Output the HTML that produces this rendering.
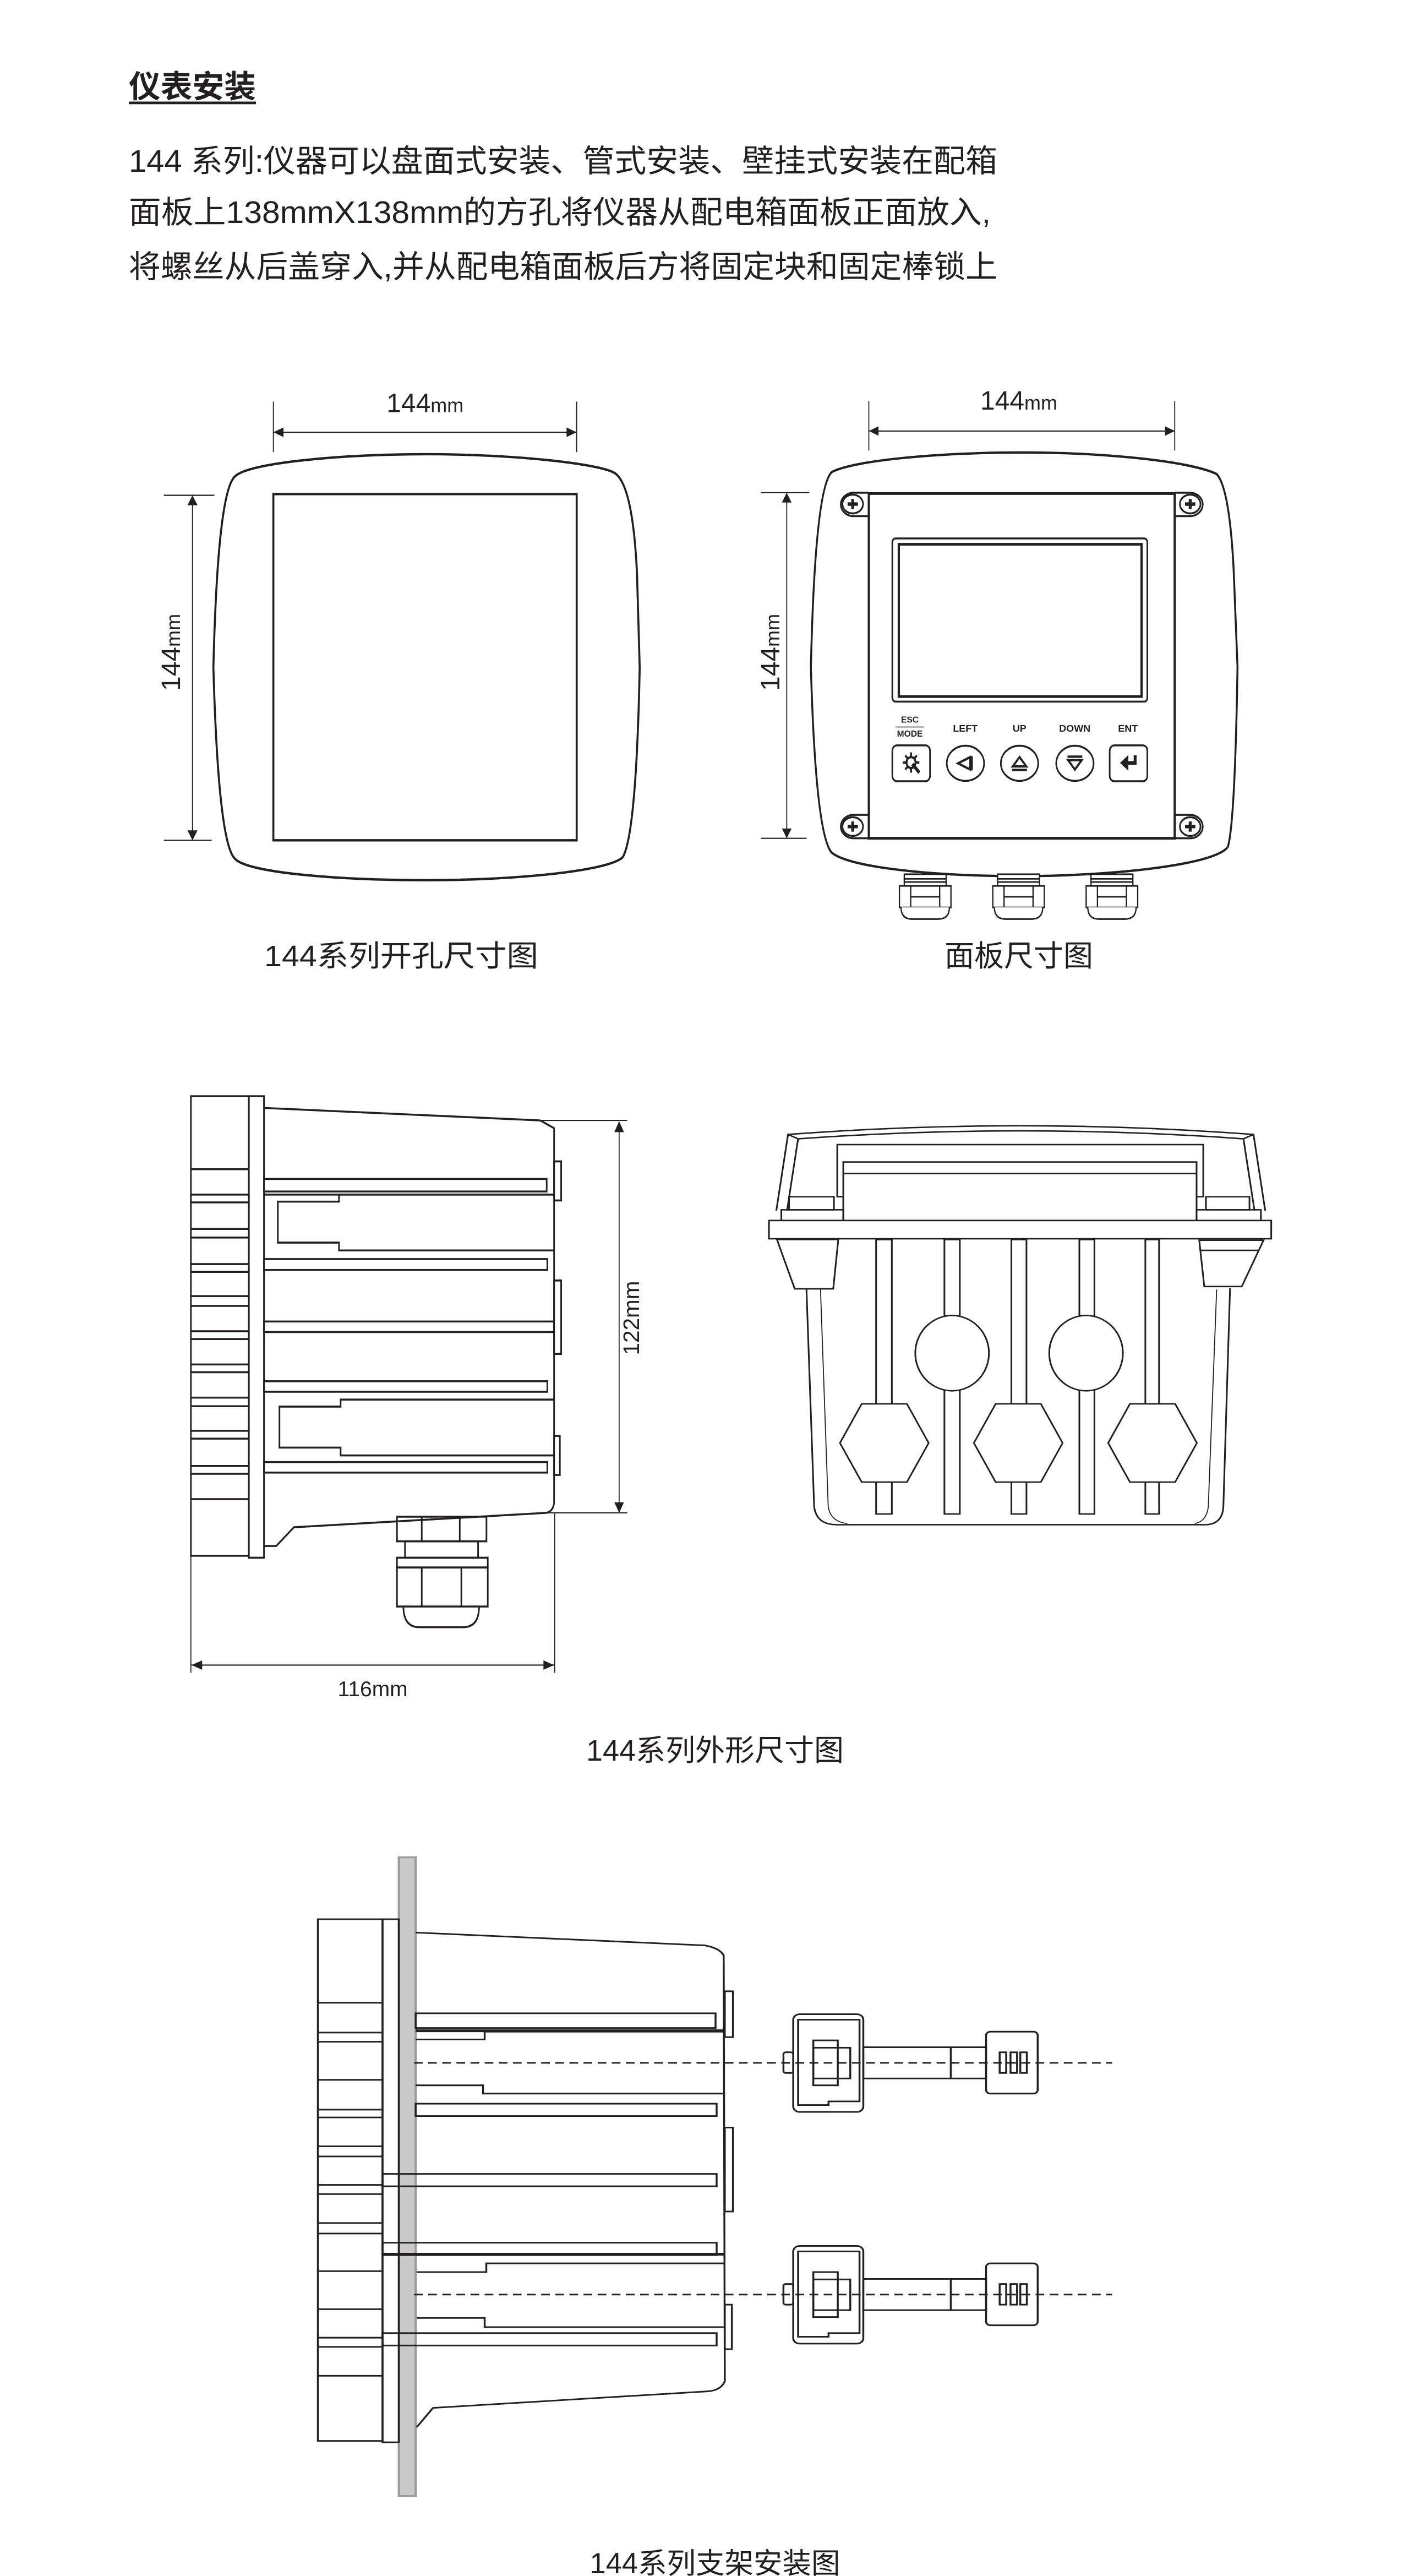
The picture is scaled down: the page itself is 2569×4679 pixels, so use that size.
<!DOCTYPE html>
<html><head><meta charset="utf-8"><style>
html,body{margin:0;padding:0;background:#fff;}
svg{display:block;}
text{font-family:"Liberation Sans","Noto Sans CJK SC",sans-serif;fill:#231f20;}
</style></head><body>
<svg width="2569" height="4679" viewBox="0 0 856.33 1559.67" xmlns="http://www.w3.org/2000/svg">
<rect width="856.33" height="1559.67" fill="#fff"/>
<!-- Header text -->
<text x="78" y="59" font-size="19" font-weight="bold" textLength="77" lengthAdjust="spacingAndGlyphs">仪表安装</text>
<rect x="78" y="61.5" width="77" height="1.6" fill="#231f20"/>
<text x="78" y="104" font-size="19" textLength="526" lengthAdjust="spacingAndGlyphs">144 系列:仪器可以盘面式安装、管式安装、壁挂式安装在配箱</text>
<text x="78" y="135" font-size="19" textLength="522" lengthAdjust="spacingAndGlyphs">面板上138mmX138mm的方孔将仪器从配电箱面板正面放入,</text>
<text x="78" y="168" font-size="19" textLength="526" lengthAdjust="spacingAndGlyphs">将螺丝从后盖穿入,并从配电箱面板后方将固定块和固定棒锁上</text>

<!-- Panel 1 -->
<g transform="translate(83.3,226.7) scale(0.2041,0.2415)" fill="none" stroke="#231f20">
<path stroke-width="6" d="M290,255 C330,222 600,200 860,200 C1120,200 1390,225 1420,250 Q1470,285 1482,500 L1490,735 Q1480,1150 1440,1210 C1400,1245 1120,1268 860,1268 C600,1268 330,1250 290,1215 Q240,1180 225,735 Q238,290 290,255 Z"/>
<rect x="403" y="300" width="900" height="868" stroke-width="6"/>
<g stroke-width="3">
<line x1="403" y1="68" x2="403" y2="195"/><line x1="1303" y1="68" x2="1303" y2="195"/>
<line x1="403" y1="145" x2="1303" y2="145"/>
<line x1="78" y1="303" x2="228" y2="303"/><line x1="78" y1="1168" x2="220" y2="1168"/>
<line x1="163" y1="303" x2="163" y2="1168"/>
</g>
<g fill="#231f20" stroke="none">
<polygon points="403,145 433,133 433,157"/><polygon points="1303,145 1273,133 1273,157"/>
<polygon points="163,303 148,328 178,328"/><polygon points="163,1168 148,1143 178,1143"/>
</g>
</g>
<text x="257.4" y="249.5" font-size="16" text-anchor="middle">144<tspan font-size="12">mm</tspan></text>
<text transform="translate(109,395) rotate(-90)" font-size="16" text-anchor="middle">144<tspan font-size="12">mm</tspan></text>
<text x="243" y="585" font-size="18" text-anchor="middle" textLength="166" lengthAdjust="spacingAndGlyphs">144系列开孔尺寸图</text>

<!-- Panel 2 -->
<g transform="translate(466.7,226.7) scale(0.195,0.2364)" fill="none" stroke="#231f20">
<path stroke-width="6" d="M190,250 C260,220 520,200 780,200 C1040,200 1300,222 1385,255 Q1425,290 1438,500 L1450,750 Q1442,1150 1420,1210 C1380,1258 1040,1285 780,1285 C520,1285 250,1265 190,1225 Q140,1180 125,750 Q138,290 190,250 Z"/>
<!-- glands -->
<g stroke-width="4" fill="#fff">
<g transform="translate(480,0)">
<rect x="-65" y="1280" width="130" height="30"/><line x1="-65" y1="1292" x2="65" y2="1292"/><line x1="-65" y1="1300" x2="65" y2="1300"/>
<path d="M-80,1310 L80,1310 L80,1365 L-80,1365 Z"/><line x1="-45" y1="1310" x2="-45" y2="1365"/><line x1="45" y1="1310" x2="45" y2="1365"/><line x1="-45" y1="1338" x2="45" y2="1338"/>
<path d="M-75,1365 Q-75,1395 -40,1395 L40,1395 Q75,1395 75,1365"/>
</g>
<g transform="translate(770,0)">
<rect x="-65" y="1280" width="130" height="30"/><line x1="-65" y1="1292" x2="65" y2="1292"/><line x1="-65" y1="1300" x2="65" y2="1300"/>
<path d="M-80,1310 L80,1310 L80,1365 L-80,1365 Z"/><line x1="-45" y1="1310" x2="-45" y2="1365"/><line x1="45" y1="1310" x2="45" y2="1365"/><line x1="-45" y1="1338" x2="45" y2="1338"/>
<path d="M-75,1365 Q-75,1395 -40,1395 L40,1395 Q75,1395 75,1365"/>
</g>
<g transform="translate(1060,0)">
<rect x="-65" y="1280" width="130" height="30"/><line x1="-65" y1="1292" x2="65" y2="1292"/><line x1="-65" y1="1300" x2="65" y2="1300"/>
<path d="M-80,1310 L80,1310 L80,1365 L-80,1365 Z"/><line x1="-45" y1="1310" x2="-45" y2="1365"/><line x1="45" y1="1310" x2="45" y2="1365"/><line x1="-45" y1="1338" x2="45" y2="1338"/>
<path d="M-75,1365 Q-75,1395 -40,1395 L40,1395 Q75,1395 75,1365"/>
</g>
</g>
<rect x="305" y="305" width="950" height="883" stroke-width="7"/>
<!-- screws -->
<g stroke-width="5">
<path d="M305,303 L258,303 A40,30 0 0 0 258,363 L305,363"/>
<path d="M1255,303 L1302,303 A40,30 0 0 1 1302,363 L1255,363"/>
<path d="M305,1128 L258,1128 A40,30 0 0 0 258,1188 L305,1188"/>
<path d="M1255,1128 L1302,1128 A40,30 0 0 1 1302,1188 L1255,1188"/>
<ellipse cx="255" cy="332" rx="32" ry="24"/><ellipse cx="1303" cy="332" rx="32" ry="24"/>
<ellipse cx="255" cy="1158" rx="32" ry="24"/><ellipse cx="1303" cy="1158" rx="32" ry="24"/>
</g>
<g stroke-width="9">
<path d="M239,332 h32 M255,319 v26"/><path d="M1287,332 h32 M1303,319 v26"/>
<path d="M239,1158 h32 M255,1145 v26"/><path d="M1287,1158 h32 M1303,1145 v26"/>
</g>
<!-- screen -->
<rect x="378" y="420" width="792" height="418" rx="10" stroke-width="5"/>
<rect x="398" y="435" width="754" height="390" stroke-width="7"/>
<line x1="388" y1="903" x2="476" y2="903" stroke-width="2"/>
<!-- buttons -->
<g stroke-width="5">
<rect x="378" y="950" width="117" height="92" rx="14"/>
<ellipse cx="605" cy="996" rx="58" ry="45"/>
<ellipse cx="773" cy="996" rx="58" ry="45"/>
<ellipse cx="945" cy="996" rx="58" ry="45"/>
<rect x="1053" y="950" width="117" height="92" rx="14"/>
</g>
<g stroke-width="6">
<circle cx="436" cy="994" r="14"/>
<path d="M436,968 v10 M436,1010 v10 M410,994 h10 M452,994 h10 M418,976 l7,7 M447,1005 l7,7 M454,976 l-7,7 M418,1012 l7,-7"/>
<line x1="440" y1="998" x2="462" y2="1020" stroke-width="9"/>
<path d="M620,980 L582,996 L620,1012 Z"/><line x1="625" y1="978" x2="625" y2="1014"/>
<path d="M773,980 L752,1004 L794,1004 Z"/><line x1="750" y1="1013" x2="796" y2="1013"/>
<path d="M945,1012 L924,988 L966,988 Z"/><line x1="922" y1="979" x2="968" y2="979"/>
<path d="M1132,975 L1132,995 L1095,995" stroke-width="9"/><path d="M1090,995 L1108,981 L1108,1009 Z" fill="#231f20"/>
</g>
<!-- dims -->
<g stroke-width="3">
<line x1="305" y1="68" x2="305" y2="195"/><line x1="1255" y1="68" x2="1255" y2="195"/>
<line x1="305" y1="145" x2="1255" y2="145"/>
<line x1="-30" y1="303" x2="120" y2="303"/><line x1="-30" y1="1188" x2="112" y2="1188"/>
<line x1="50" y1="303" x2="50" y2="1188"/>
</g>
<g fill="#231f20" stroke="none">
<polygon points="305,145 335,133 335,157"/><polygon points="1255,145 1225,133 1225,157"/>
<polygon points="50,303 35,328 65,328"/><polygon points="50,1188 35,1163 65,1163"/>
</g>
</g>
<text x="617" y="248" font-size="16" text-anchor="middle">144<tspan font-size="12">mm</tspan></text>
<text transform="translate(472,395) rotate(-90)" font-size="16" text-anchor="middle">144<tspan font-size="12">mm</tspan></text>
<g font-size="6" font-weight="bold" text-anchor="middle">
<text x="551" y="437.5" font-size="5.2">ESC</text>
<text x="551" y="446" font-size="5.2">MODE</text>
<text x="584.6" y="443">LEFT</text>
<text x="617.4" y="443">UP</text>
<text x="650.9" y="443">DOWN</text>
<text x="683.1" y="443">ENT</text>
</g>
<text x="617" y="585" font-size="18" text-anchor="middle">面板尺寸图</text>

<!-- Panel 3 side view -->
<g transform="translate(100,650) scale(0.195,0.2364)" fill="none" stroke="#231f20">
<g stroke-width="5">
<rect x="80" y="58" width="180" height="1177"/>
<rect x="260" y="58" width="47" height="1182"/>
<path d="M307,88 L1165,120 L1208,140 L1208,1100 Q1205,1120 1185,1125 L400,1162 L345,1210 L307,1210"/>
<path d="M80,245 h180 M80,310 h180 M80,330 h180 M80,398 h180 M80,420 h180 M80,488 h180 M80,508 h180 M80,570 h180 M80,595 h180 M80,660 h180 M80,680 h180 M80,745 h180 M80,765 h180 M80,830 h180 M80,852 h180 M80,915 h180 M80,935 h180 M80,1005 h180 M80,1025 h180 M80,1090 h180"/>
<rect x="307" y="270" width="878" height="32"/>
<line x1="307" y1="310" x2="1208" y2="310"/>
<polyline points="1208,310 540,310 540,328 350,328 350,433 540,433 540,453 1208,453"/>
<rect x="307" y="475" width="880" height="28"/>
<rect x="307" y="635" width="901" height="27"/>
<rect x="307" y="788" width="880" height="27"/>
<polyline points="1208,835 545,835 545,853 355,853 355,958 545,958 545,978 1208,978"/>
<rect x="307" y="995" width="880" height="27"/>
<rect x="1208" y="225" width="22" height="100"/>
<rect x="1208" y="530" width="22" height="188"/>
<rect x="1208" y="928" width="18" height="100"/>
<!-- gland -->
<rect x="720" y="1135" width="278" height="63"/><line x1="797" y1="1135" x2="797" y2="1198"/><line x1="915" y1="1135" x2="915" y2="1198"/>
<rect x="745" y="1198" width="227" height="42"/>
<rect x="720" y="1240" width="282" height="25"/>
<rect x="720" y="1265" width="282" height="100"/><line x1="797" y1="1265" x2="797" y2="1365"/><line x1="920" y1="1265" x2="920" y2="1365"/>
<path d="M740,1365 Q740,1418 790,1418 L925,1418 Q975,1418 975,1365"/>
</g>
<g stroke-width="3">
<line x1="1165" y1="120" x2="1435" y2="120"/><line x1="1185" y1="1125" x2="1435" y2="1125"/>
<line x1="1410" y1="125" x2="1410" y2="1125"/>
<line x1="80" y1="1235" x2="80" y2="1535"/><line x1="1210" y1="1125" x2="1210" y2="1535"/>
<line x1="80" y1="1515" x2="1210" y2="1515"/>
</g>
<g fill="#231f20" stroke="none">
<polygon points="1410,122 1395,150 1425,150"/><polygon points="1410,1125 1395,1098 1425,1098"/>
<polygon points="82,1515 115,1503 115,1527"/><polygon points="1208,1515 1175,1503 1175,1527"/>
</g>
</g>
<text transform="translate(387,798) rotate(-90)" font-size="13.5" text-anchor="middle">122mm</text>
<text x="225.7" y="1027" font-size="13" text-anchor="middle">116mm</text>
<text x="433" y="1066" font-size="18" text-anchor="middle">144系列外形尺寸图</text>

<!-- Panel 4 -->
<g transform="translate(460,666.7) scale(0.2028,0.1754)" fill="none" stroke="#231f20">
<g stroke-width="5">
<path d="M50,378 L85,115 Q780,55 1475,115 L1510,378"/>
<path d="M85,115 L115,130 Q780,75 1445,130 L1475,115"/>
<path d="M115,130 L82,378 M1445,130 L1478,378"/>
<rect x="232" y="150" width="1093" height="180"/>
<rect x="250" y="210" width="1055" height="202" fill="#fff"/>
<line x1="250" y1="250" x2="1305" y2="250"/>
<rect x="88" y="330" width="134" height="45"/><rect x="1333" y="330" width="130" height="45"/>
<rect x="65" y="375" width="185" height="37"/><rect x="1305" y="375" width="192" height="37"/>
<rect x="28" y="412" width="1500" height="63" fill="#fff"/>
<path d="M52,478 L235,478 L220,648 L105,648 Z"/>
<path d="M1313,480 L1505,480 L1440,640 L1328,640 Z"/><line x1="1318" y1="515" x2="1490" y2="515"/>
<path d="M140,648 L163,1400 Q170,1462 230,1462 L1330,1462 Q1382,1462 1385,1400 L1405,645"/>
<path d="M182,650 L205,1400 Q212,1452 262,1458 M1365,650 L1340,1400 Q1335,1450 1300,1458" stroke-width="3"/>
</g>
<g stroke-width="5" fill="#fff">
<rect x="348" y="478" width="47" height="947"/>
<rect x="552" y="478" width="46" height="947"/>
<rect x="752" y="478" width="45" height="947"/>
<rect x="955" y="478" width="45" height="947"/>
<rect x="1152" y="478" width="41" height="947"/>
<ellipse cx="575" cy="870" rx="110" ry="130"/>
<ellipse cx="975" cy="870" rx="110" ry="130"/>
<polygon points="305,1045 440,1045 505,1180 440,1315 305,1315 240,1180"/>
<polygon points="705,1045 840,1045 905,1180 840,1315 705,1315 640,1180"/>
<polygon points="1106,1045 1241,1045 1306,1180 1241,1315 1106,1315 1041,1180"/>
</g>
</g>

<!-- Panel 5 -->
<g transform="translate(183.3,1122.3) scale(0.329,0.2778)" fill="none" stroke="#231f20">
<rect x="177" y="8" width="31" height="1392" fill="#c9c9c9" stroke="#999" stroke-width="4"/>
<g stroke-width="3.5">
<rect x="28" y="143" width="119" height="1137"/>
<rect x="147" y="143" width="30" height="1140"/>
<path d="M28,325 h119 M28,390 h119 M28,410 h119 M28,493 h119 M28,558 h119 M28,575 h119 M28,638 h119 M28,660 h119 M28,722 h119 M28,742 h119 M28,805 h119 M28,828 h119 M28,910 h119 M28,993 h119 M28,1055 h119 M28,1075 h119 M28,1138 h119"/>
<path d="M208,172 L740,200 Q768,206 775,222 L777,1150 Q770,1170 745,1172 L240,1208 L210,1250"/>
<rect x="208" y="348" width="552" height="32"/>
<line x1="208" y1="386" x2="775" y2="386" stroke-width="6"/>
<polyline points="775,388 335,388 335,405 208,405"/>
<polyline points="208,505 332,505 332,523 775,523"/>
<rect x="208" y="545" width="554" height="27"/>
<rect x="147" y="698" width="615" height="27"/>
<rect x="147" y="848" width="615" height="27"/>
<line x1="147" y1="873" x2="775" y2="873" stroke-width="6"/>
<polyline points="775,893 338,893 338,912 210,912"/>
<polyline points="210,1012 335,1012 335,1032 775,1032"/>
<rect x="147" y="1045" width="615" height="27"/>
<rect x="777" y="300" width="15" height="100"/>
<rect x="777" y="597" width="15" height="183"/>
<rect x="777" y="983" width="13" height="97"/>
</g>
<g stroke-width="3.5">
<rect x="903" y="350" width="129" height="213" rx="12"/>
<path d="M912,362 L1025,362 L1025,540 L968,540 L968,548 L912,548 Z"/>
<rect x="940" y="407" width="45" height="98"/>
<rect x="940" y="423" width="68" height="67"/>
<rect x="885" y="433" width="18" height="45" rx="4"/>
<rect x="1032" y="422" width="226" height="68"/>
<line x1="1193" y1="422" x2="1193" y2="490"/>
<rect x="1258" y="388" width="95" height="135" rx="8"/>
<rect x="1283" y="433" width="12" height="45"/><rect x="1303" y="433" width="12" height="45"/><rect x="1321" y="433" width="12" height="45"/>
</g>
<g stroke-width="3.5" transform="translate(0,505)">
<rect x="903" y="350" width="129" height="213" rx="12"/>
<path d="M912,362 L1025,362 L1025,540 L968,540 L968,548 L912,548 Z"/>
<rect x="940" y="407" width="45" height="98"/>
<rect x="940" y="423" width="68" height="67"/>
<rect x="885" y="433" width="18" height="45" rx="4"/>
<rect x="1032" y="422" width="226" height="68"/>
<line x1="1193" y1="422" x2="1193" y2="490"/>
<rect x="1258" y="388" width="95" height="135" rx="8"/>
<rect x="1283" y="433" width="12" height="45"/><rect x="1303" y="433" width="12" height="45"/><rect x="1321" y="433" width="12" height="45"/>
</g>
<g stroke-width="3.5" stroke-dasharray="16,10">
<line x1="205" y1="456" x2="1490" y2="456"/>
<line x1="205" y1="961" x2="1490" y2="961"/>
</g>
</g>
<text x="433" y="1558" font-size="17.5" text-anchor="middle">144系列支架安装图</text>
</svg>
</body></html>
